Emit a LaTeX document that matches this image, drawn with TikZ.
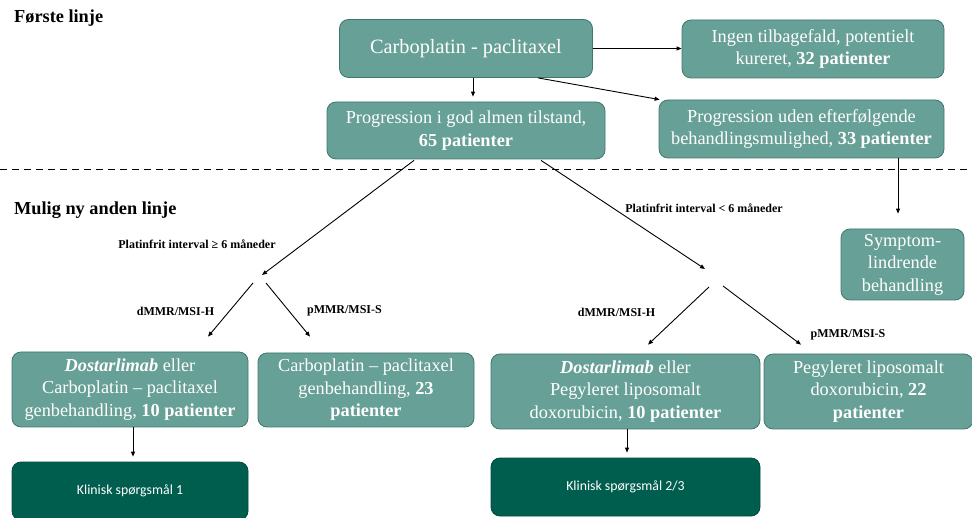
\documentclass[tikz,border=0pt]{standalone}
\usepackage{fontspec}
\setmainfont{Liberation Serif}
\newfontfamily\calib{Carlito}
\usetikzlibrary{arrows.meta}
\definecolor{boxfill}{HTML}{67A096}
\definecolor{boxedge}{HTML}{3F786D}
\definecolor{darkbox}{HTML}{005E4E}
\begin{document}
\begin{tikzpicture}[x=1pt,y=-1pt,
  box/.style={draw=boxedge, line width=0.8pt, fill=boxfill, rounded corners=9pt, text=white, align=center, inner sep=0pt,
    font=\fontsize{18.3}{22.5}\selectfont},
  kbox/.style={draw=darkbox!80!black, line width=0.8pt, fill=darkbox, rounded corners=9pt, text=white, align=center, inner sep=0pt,
    font=\calib\fontsize{13.8}{16}\selectfont},
  arr/.style={-{Triangle[length=5pt,width=4pt]}, line width=0.9pt, black},
  lbl/.style={font=\bfseries\fontsize{12}{14}\selectfont, inner sep=0pt},
  head/.style={font=\bfseries\fontsize{18.3}{21}\selectfont, anchor=west, inner sep=0pt}]
\useasboundingbox (0,0) rectangle (972,518);

\node[head] (h1) at (14,18) {Første linje};
\node[head] (h2) at (14,210) {Mulig ny anden linje};

\draw[dash pattern=on 7pt off 5pt, line width=1pt] (0,170) -- (972,170);

\node[box, minimum width=253pt, minimum height=58pt, font=\fontsize{20.3}{24}\selectfont] (carbo) at (466,48.5) {Carboplatin - paclitaxel};
\node[box, minimum width=262pt, minimum height=58pt] (ingen) at (813,49) {Ingen tilbagefald, potentielt\\kureret, \textbf{32 patienter}};
\node[box, minimum width=278pt, minimum height=57pt] (progG) at (466,130.5) {Progression i god almen tilstand,\\\textbf{65 patienter}};
\node[box, minimum width=285pt, minimum height=58pt] (progU) at (801.5,129) {Progression uden efterfølgende\\behandlingsmulighed, \textbf{33 patienter}};
\node[box, minimum width=123pt, minimum height=71pt] (symp) at (902.5,264.5) {Symptom-\\lindrende\\behandling};

\node[box, minimum width=236pt, minimum height=75pt] (dostA) at (130,389.5) {\textbf{\textit{Dostarlimab}} eller\\Carboplatin – paclitaxel\\genbehandling, \textbf{10 patienter}};
\node[box, minimum width=216pt, minimum height=74pt] (carboG) at (366,390) {Carboplatin – paclitaxel\\genbehandling, \textbf{23}\\\textbf{patienter}};
\node[box, minimum width=269pt, minimum height=75pt] (dostB) at (625.5,391.5) {\textbf{\textit{Dostarlimab}} eller\\Pegyleret liposomalt\\doxorubicin, \textbf{10 patienter}};
\node[box, minimum width=209pt, minimum height=75pt] (pegB) at (868.5,391.5) {Pegyleret liposomalt\\doxorubicin, \textbf{22}\\\textbf{patienter}};

\node[kbox, minimum width=236pt, minimum height=58pt] (k1) at (130,491) {Klinisk spørgsmål 1};
\node[kbox, minimum width=269pt, minimum height=58pt] (k2) at (625.5,487) {Klinisk spørgsmål 2/3};

\coordinate (J1a) at (262,275);
\coordinate (J1b) at (253,283);
\coordinate (J1c) at (266,283);
\coordinate (J2a) at (705,269);
\coordinate (J2b) at (709,287);
\coordinate (J2c) at (723,286);

\draw[arr] (carbo.east) -- (ingen.west |- carbo.east);
\draw[arr] ([xshift=7pt]carbo.south) -- ([xshift=7pt,yshift=5pt]progG.north);
\draw[arr] ([xshift=72pt]carbo.south) -- ([xshift=1pt]progU.north west);
\draw[arr] ([xshift=96.5pt]progU.south) -- ([xshift=-4.5pt,yshift=15pt]symp.north);

\draw[arr] ([xshift=-52pt,yshift=-1pt]progG.south) -- (J1a);
\draw[arr] ([xshift=75pt,yshift=-1pt]progG.south) -- (J2a);
\draw[arr] (J1b) -- ([xshift=78pt,yshift=15pt]dostA.north);
\draw[arr] (J1c) -- ([xshift=-56pt,yshift=16pt]carboG.north);
\draw[arr] (J2b) -- ([xshift=22.5pt,yshift=9pt]dostB.north);
\draw[arr] (J2c) -- ([xshift=-67.5pt,yshift=9pt]pegB.north);
\draw[arr] ([xshift=3pt]dostA.south) -- ([xshift=3pt,yshift=5pt]k1.north);
\draw[arr] ([xshift=1.5pt]dostB.south) -- ([xshift=1.5pt,yshift=5pt]k2.north);

\node[lbl] (l1) at (197,244) {Platinfrit interval ≥ 6 måneder};
\node[lbl] (l2) at (704,208) {Platinfrit interval < 6 måneder};
\node[lbl] (l3) at (175.5,311) {dMMR/MSI-H};
\node[lbl] (l4) at (344.5,311) {pMMR/MSI-S};
\node[lbl] (l5) at (616.5,312) {dMMR/MSI-H};
\node[lbl] (l6) at (848,335) {pMMR/MSI-S};
\end{tikzpicture}
\end{document}
